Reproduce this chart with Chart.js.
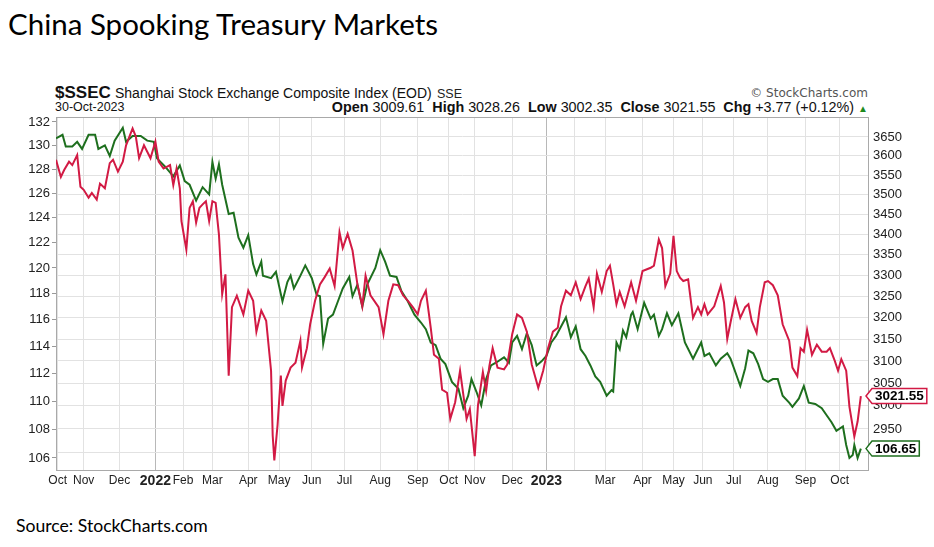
<!DOCTYPE html>
<html>
<head>
<meta charset="utf-8">
<script src="https://cdn.jsdelivr.net/npm/chart.js"></script>
<style>
  html,body{margin:0;padding:0;background:#fff;}
  body{width:934px;height:547px;position:relative;overflow:hidden;font-family:"Liberation Sans",Arial,sans-serif;}
  .t{position:absolute;white-space:nowrap;line-height:1;}
  #wrap{position:absolute;left:0;top:0;width:934px;height:547px;}
</style>
</head>
<body>
<div class="t" id="title" style="left:8px;top:9px;font-family:Lato,'Open Sans',sans-serif;font-size:29.5px;color:#000;">China Spooking Treasury Markets</div>
<div class="t" style="left:55px;top:83.5px;font-size:17px;font-weight:bold;color:#111;">$SSEC</div>
<div class="t" style="left:115px;top:86px;font-size:14px;color:#111;">Shanghai Stock Exchange Composite Index (EOD)</div>
<div class="t" style="left:437px;top:87.5px;font-size:12.5px;color:#222;">SSE</div>
<div class="t" style="right:66px;top:87px;font-size:12px;color:#555;font-family:'DejaVu Sans',sans-serif;">© StockCharts.com</div>
<div class="t" style="left:55px;top:101px;font-size:12.5px;color:#111;">30-Oct-2023</div>
<div class="t" style="right:66px;top:100.3px;font-size:14.35px;color:#111;"><b>Open</b> 3009.61&nbsp; <b>High</b> 3028.26&nbsp; <b>Low</b> 3002.35&nbsp; <b>Close</b> 3021.55&nbsp; <b>Chg</b> +3.77 (+0.12%) <span style="color:#1d8a1d;font-size:10px;">▲</span></div>
<div class="t" style="left:16px;top:517px;font-family:Lato,'Open Sans',sans-serif;font-size:17.6px;color:#000;">Source: StockCharts.com</div>
<div id="wrap"><canvas id="c" width="934" height="547"></canvas></div>
<script>
// ---- data (x = trading-day index from start of window) ----
const tltDay = [0,4,6,10,13,16,20,24,26,30,33,36,41,43,47,52,56,60,62,67,72,76,79,82,86,90,94,96,98,100,102,106,109,112,115,118,121,123,126,
  127,132,135,139,142,144,146,150,153,157,160,162,164,167,170,173,176,180,182,185,188,191,196,199,202,205,209,212,216,220,224,227,230,233,236,239,243,247,250,
  253,255,258,261,264,267,270,275,278,280,283,286,289,292,295,298,301,304,307,310,313,316,319,322,325,328,331,334,338,341,342,344,346,348,350,353,354,357,361,365,367,370,
  372,375,378,382,386,391,396,398,401,405,408,412,414,417,420,423,425,428,431,434,437,440,443,446,450,452,456,459,462,466,470,473,476,479,483,485,487,489,490,492,494];
const tltVal = [130.6,130.9,129.9,129.9,130.3,129.7,130.9,130.9,129.7,130.0,129.1,130.4,131.5,130.3,130.8,130.8,130.4,130.3,128.9,128.2,127.4,128.3,127.0,126.7,125.4,126.5,125.9,128.6,127.2,128.4,126.7,124.3,124.4,122.4,121.6,122.6,120.3,119.5,120.5,
  119.4,119.2,119.7,117.4,118.9,119.4,118.4,119.4,120.2,119.2,117.9,117.8,114.2,116.1,116.4,117.4,118.4,119.3,117.8,118.7,117.0,118.7,120.0,121.4,120.5,119.4,119.3,118.2,117.4,116.4,115.8,115.3,114.3,114.1,113.1,112.7,111.4,110.9,109.5,
  110.4,111.6,110.7,109.7,111.6,112.6,112.8,113.2,112.8,114.3,114.8,113.8,115.0,114.1,112.6,112.9,113.3,114.3,114.8,115.5,116.2,114.7,115.5,113.8,113.3,112.6,111.8,111.4,110.4,110.8,110.7,114.3,113.8,115.2,114.7,116.4,116.6,115.3,117.3,116.1,116.4,114.8,
  115.3,116.5,115.6,116.5,114.3,113.1,114.3,113.3,113.5,112.6,113.1,113.5,113.1,112.1,111.1,112.4,113.7,113.5,112.7,111.6,111.4,111.6,111.6,110.4,109.9,109.6,110.2,111.1,109.9,109.8,109.5,109.0,108.5,107.9,108.2,106.9,106.0,106.2,106.9,106.0,106.65];
const sseDay = [0,3,5,8,10,13,15,17,20,22,25,27,30,33,35,38,41,43,47,49,51,54,56,58,61,63,66,70,72,74,76,77,80,82,84,86,88,90,92,94,96,98,100,102,104,106,108,111,115,118,121,123,126,
  129,132,133,134,136,138,139,141,144,147,150,151,154,156,159,162,165,168,171,174,176,179,182,185,188,190,193,198,201,204,207,210,213,216,219,222,224,227,230,232,235,237,240,242,245,248,250,
  252,254,257,259,262,264,266,268,271,275,277,280,283,286,289,292,296,299,302,305,308,310,313,316,319,322,325,327,330,332,335,338,340,342,344,346,349,353,356,360,365,367,370,372,374,
  377,379,381,383,385,388,391,394,396,398,400,404,408,410,412,414,417,420,423,425,427,430,432,435,437,440,443,446,450,452,455,457,459,461,464,467,470,473,475,478,480,482,485,487,490,492,494];
const sseVal = [3590,3545,3563,3585,3576,3602,3520,3512,3492,3504,3487,3528,3516,3581,3590,3559,3585,3628,3673,3651,3594,3628,3611,3594,3638,3585,3567,3576,3524,3567,3516,3433,3362,3466,3483,3429,3466,3475,3483,3433,3483,3479,3400,3255,3302,3067,3224,3251,3207,3263,3239,3167,3216,
  3192,3078,2936,2883,2959,3067,3000,3056,3085,3096,3146,3085,3129,3184,3239,3278,3296,3316,3274,3405,3366,3401,3360,3278,3226,3299,3252,3224,3161,3239,3278,3276,3252,3239,3224,3207,3239,3263,3176,3114,3105,3036,3029,2972,3008,3078,3025,
  2972,2993,2892,3001,3075,3033,3089,3129,3085,3081,3092,3161,3207,3199,3167,3092,3040,3078,3129,3167,3176,3226,3263,3252,3283,3243,3274,3292,3224,3304,3260,3310,3323,3278,3231,3260,3226,3283,3239,3310,3318,3323,3387,3366,3274,
  3304,3396,3310,3294,3286,3290,3199,3224,3207,3231,3207,3226,3274,3235,3150,3188,3243,3199,3224,3231,3192,3164,3224,3283,3286,3276,3252,3184,3146,3085,3066,3129,3121,3171,3114,3137,3121,3121,3129,3100,3078,3104,3078,2998,2934,2966,3021.55];
const monthTickDays   = [1,17,39,61,78,96,118,137,157,177,199,222,241,257,280,301,318,337,360,379,397,416,437,460,481];
const monthTickLabels = ['Oct','Nov','Dec','2022','Feb','Mar','Apr','May','Jun','Jul','Aug','Sep','Oct','Nov','Dec','2023','','Mar','Apr','May','Jun','Jul','Aug','Sep','Oct'];
const leftTicks  = [106,108,110,112,114,116,118,120,122,124,126,128,130,132];
const rightTicks = [2900,2950,3000,3050,3100,3150,3200,3250,3300,3350,3400,3450,3500,3550,3600,3650];

const RED = '#d21a44', GREEN = '#1e6f1e';
const isYear = l => /^\d{4}$/.test(l);

const framePlugin = {
  id:'frame',
  beforeDatasetsDraw(chart){
    const {ctx, chartArea:a} = chart;
    ctx.save();
    ctx.strokeStyle = '#a9a9a9'; ctx.lineWidth = 1;
    ctx.strokeRect(a.left+0.5, a.top+0.5, a.right-a.left-1, a.bottom-a.top);
    ctx.restore();
  }
};
function tag(ctx, tipX, y, text, color){
  ctx.font = 'bold 13.5px "Liberation Sans", Arial, sans-serif';
  const w = ctx.measureText(text).width;
  const h = 15, ar = 6, bx = tipX + ar, bw = w + 6;
  ctx.beginPath();
  ctx.moveTo(tipX, y);
  ctx.lineTo(bx, y - h/2); ctx.lineTo(bx + bw, y - h/2);
  ctx.lineTo(bx + bw, y + h/2); ctx.lineTo(bx, y + h/2);
  ctx.closePath();
  ctx.fillStyle = '#fff'; ctx.fill();
  ctx.lineWidth = 1.5; ctx.strokeStyle = color; ctx.stroke();
  ctx.fillStyle = '#000'; ctx.textBaseline = 'middle'; ctx.textAlign = 'left';
  ctx.fillText(text, bx + 3, y + 0.5);
}
const tagPlugin = {
  id:'tags',
  afterDraw(chart){
    const {ctx, chartArea:a, scales} = chart;
    ctx.save();
    const tipX = a.right - 3;
    tag(ctx, tipX, scales.yR.getPixelForValue(sseVal[sseVal.length-1]), sseVal[sseVal.length-1].toFixed(2), RED);
    tag(ctx, tipX, scales.yL.getPixelForValue(tltVal[tltVal.length-1]), tltVal[tltVal.length-1].toFixed(2), GREEN);
    ctx.restore();
  }
};

const axisFont = {family:'"Liberation Sans", Arial, sans-serif', size:13};
new Chart(document.getElementById('c'), {
  type:'line',
  data:{datasets:[
    {label:'$SSEC', data: sseDay.map((d,i)=>({x:d,y:sseVal[i]})), yAxisID:'yR', borderColor:RED, borderWidth:2, pointRadius:0, tension:0},
    {label:'Treasury', data: tltDay.map((d,i)=>({x:d,y:tltVal[i]})), yAxisID:'yL', borderColor:GREEN, borderWidth:2, pointRadius:0, tension:0}
  ]},
  options:{
    responsive:false, animation:false, devicePixelRatio:1,
    layout:{padding:{top:117,left:0,right:0,bottom:55}},
    plugins:{legend:{display:false}, tooltip:{enabled:false}},
    scales:{
      x:{type:'linear', min:0, max:499,
        afterBuildTicks: ax => { ax.ticks = monthTickDays.map(v=>({value:v})); },
        afterFit: s => { s.height = 22; },
        ticks:{autoSkip:false, maxRotation:0, padding:3, color:'#222',
          callback:(v,i)=>monthTickLabels[i],
          font: c => isYear(monthTickLabels[c.index]||'') ? {family:axisFont.family,size:14,weight:'bold'} : {family:axisFont.family,size:12}},
        grid:{drawTicks:false, color: c => isYear(monthTickLabels[c.index]||'') ? '#b8b8b8' : '#e2e2e2'},
        border:{display:false}
      },
      yL:{type:'logarithmic', position:'left', min:105.17, max:132.43,
        afterBuildTicks: ax => { ax.ticks = leftTicks.map(v=>({value:v})); },
        afterFit: s => { s.width = 56; },
        ticks:{callback:v=>String(v), color:'#222', font:axisFont, padding:2},
        grid:{drawOnChartArea:false, drawTicks:true, tickLength:4, color:'#999'},
        border:{display:false}
      },
      yR:{type:'logarithmic', position:'right', min:2863, max:3703.6,
        afterBuildTicks: ax => { ax.ticks = rightTicks.map(v=>({value:v})); },
        afterFit: s => { s.width = 65; },
        ticks:{callback:v=>String(v), color:'#222', font:axisFont, padding:4},
        grid:{drawTicks:false, color:'#e2e2e2'},
        border:{display:false}
      }
    }
  },
  plugins:[framePlugin, tagPlugin]
});
</script>
</body>
</html>
